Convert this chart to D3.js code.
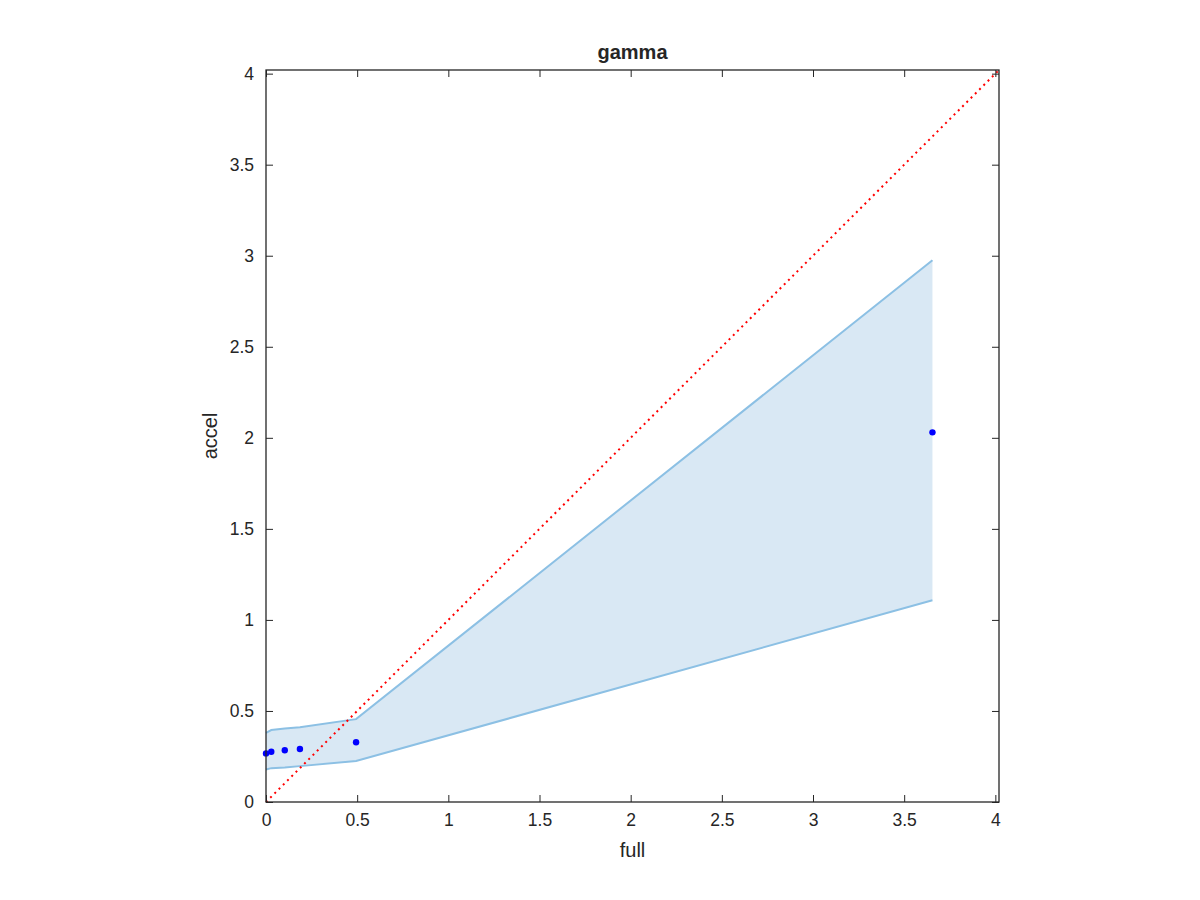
<!DOCTYPE html>
<html>
<head>
<meta charset="utf-8">
<script src="https://cdn.jsdelivr.net/npm/d3@7"></script>
<style>
  body { margin: 0; background: #fff; }
  text { font-family: "Liberation Sans", Arial, sans-serif; fill: #262626; }
</style>
</head>
<body>
<div id="chart"></div>
<script>
// data
var fullVals  = [0, 0.029, 0.103, 0.186, 0.494, 3.655];
var accelVals = [0.267, 0.276, 0.284, 0.291, 0.328, 2.030];
var upperVals = [0.38, 0.395, 0.404, 0.411, 0.455, 2.975];
var lowerVals = [0.179, 0.186, 0.19, 0.197, 0.225, 1.108];
var bandX     = [0, 0.029, 0.103, 0.186, 0.494, 3.655];
var tickVals  = [0, 0.5, 1, 1.5, 2, 2.5, 3, 3.5, 4];
var axisMax = 4.02;

var width = 1200, height = 900;
var margin = {top: 70, right: 201, bottom: 98, left: 266};

var svg = d3.select("#chart").append("svg")
    .attr("width", width)
    .attr("height", height);

var x = d3.scaleLinear().domain([0, axisMax]).range([margin.left, width - margin.right]);
var y = d3.scaleLinear().domain([0, axisMax]).range([height - margin.bottom, margin.top]);

// confidence band
var band = bandX.map(function(v, i) { return {x: v, lo: lowerVals[i], hi: upperVals[i]}; });

svg.append("path")
    .datum(band)
    .attr("fill", "#d9e8f4")
    .attr("d", d3.area()
        .x(function(d) { return x(d.x); })
        .y0(function(d) { return y(d.lo); })
        .y1(function(d) { return y(d.hi); }));

var edge = d3.line()
    .x(function(d) { return x(d[0]); })
    .y(function(d) { return y(d[1]); });

svg.append("path")
    .datum(band.map(function(d) { return [d.x, d.hi]; }))
    .attr("fill", "none").attr("stroke", "#8cc0e4").attr("stroke-width", 2)
    .attr("d", edge);
svg.append("path")
    .datum(band.map(function(d) { return [d.x, d.lo]; }))
    .attr("fill", "none").attr("stroke", "#8cc0e4").attr("stroke-width", 2)
    .attr("d", edge);

// identity line
svg.append("path")
    .datum([[0, 0], [axisMax, axisMax]])
    .attr("fill", "none")
    .attr("stroke", "#ff0000")
    .attr("stroke-width", 2)
    .attr("stroke-dasharray", "2,4")
    .attr("d", edge);

// points
svg.selectAll(".pt")
    .data(fullVals)
    .enter().append("circle")
    .attr("class", "pt")
    .attr("cx", function(d) { return x(d); })
    .attr("cy", function(d, i) { return y(accelVals[i]); })
    .attr("r", 3.2)
    .attr("fill", "#0000ff");

// axes (ticks inward, mirrored on all sides)
var tl = 7;
function styleAxis(g) {
    g.select(".domain").remove();
    g.selectAll(".tick line").attr("stroke", "#262626").attr("stroke-width", 1);
    g.selectAll(".tick text").style("font-size", "17.5px").attr("fill", "#262626");
}

svg.append("g")
    .attr("transform", "translate(0," + (height - margin.bottom) + ")")
    .call(d3.axisBottom(x).tickValues(tickVals).tickSize(-tl).tickPadding(tl + 5).tickFormat(d3.format("")))
    .call(styleAxis);
svg.append("g")
    .attr("transform", "translate(0," + margin.top + ")")
    .call(d3.axisTop(x).tickValues(tickVals).tickSize(-tl).tickFormat(""))
    .call(styleAxis);
svg.append("g")
    .attr("transform", "translate(" + margin.left + ",0)")
    .call(d3.axisLeft(y).tickValues(tickVals).tickSize(-tl).tickPadding(tl + 5).tickFormat(d3.format("")))
    .call(styleAxis);
svg.append("g")
    .attr("transform", "translate(" + (width - margin.right) + ",0)")
    .call(d3.axisRight(y).tickValues(tickVals).tickSize(-tl).tickFormat(""))
    .call(styleAxis);

svg.append("rect")
    .attr("x", margin.left).attr("y", margin.top)
    .attr("width", width - margin.left - margin.right)
    .attr("height", height - margin.top - margin.bottom)
    .attr("fill", "none").attr("stroke", "#262626").attr("stroke-width", 1.3);

// labels
svg.append("text")
    .attr("x", (margin.left + width - margin.right) / 2).attr("y", 59)
    .attr("text-anchor", "middle")
    .style("font-size", "20px").style("font-weight", "bold")
    .attr("fill", "#000")
    .text("gamma");

svg.append("text")
    .attr("x", (margin.left + width - margin.right) / 2).attr("y", 857)
    .attr("text-anchor", "middle")
    .style("font-size", "20px")
    .text("full");

svg.append("text")
    .attr("transform", "translate(217," + ((margin.top + height - margin.bottom) / 2) + ") rotate(-90)")
    .attr("text-anchor", "middle")
    .style("font-size", "20px")
    .text("accel");
</script>
</body>
</html>
